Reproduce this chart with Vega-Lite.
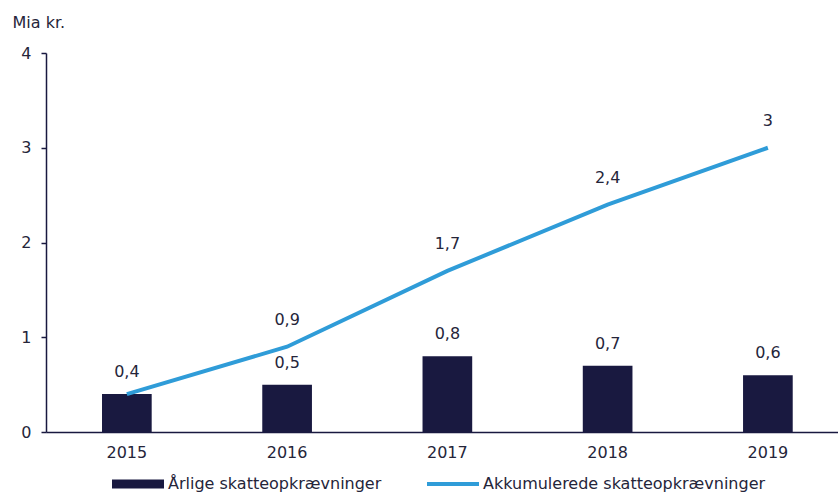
{
  "$schema": "https://vega.github.io/schema/vega-lite/v6.json",
  "autosize": {"type": "none"},
  "padding": {"left": 46, "top": 53, "right": 0, "bottom": 62},
  "width": 792,
  "height": 379,
  "background": "white",
  "config": {
    "locale": {"number": {"decimal": ",", "thousands": ".", "grouping": [3], "currency": ["", " kr."]}},
    "font": "DejaVu Sans",
    "view": {"stroke": null},
    "text": {"font": "DejaVu Sans", "fontSize": 16, "color": "#25253a"}
  },
  "data": {
    "values": [
      {"year": "2015", "annual": 0.4, "cumulative": 0.4},
      {"year": "2016", "annual": 0.5, "cumulative": 0.9},
      {"year": "2017", "annual": 0.8, "cumulative": 1.7},
      {"year": "2018", "annual": 0.7, "cumulative": 2.4},
      {"year": "2019", "annual": 0.6, "cumulative": 3.0}
    ]
  },
  "encoding": {
    "x": {
      "field": "year", "type": "nominal", "title": null,
      "scale": {"paddingInner": 0.69, "paddingOuter": 0.316, "align": 0.553},
      "axis": {
        "labelAngle": 0, "ticks": false, "domainColor": "#191940", "domainWidth": 1.5,
        "labelFontSize": 16, "labelColor": "#25253a", "labelPadding": 12, "grid": false
      }
    }
  },
  "layer": [
    {
      "mark": {"type": "bar", "color": "#191940"},
      "encoding": {
        "y": {
          "field": "annual", "type": "quantitative",
          "scale": {"domain": [0, 4], "nice": false},
          "axis": {
            "values": [0, 1, 2, 3, 4], "format": "d", "grid": false, "domainColor": "#191940", "domainWidth": 1.5,
            "tickColor": "#191940", "tickSize": 5, "tickWidth": 1.5, "labelPadding": 10,
            "labelFontSize": 16, "labelColor": "#25253a",
            "title": "Mia kr.", "titleAngle": 0, "titleAlign": "left", "titleBaseline": "alphabetic",
            "titleX": -34, "titleY": -26, "titleFontSize": 16, "titleFontWeight": "normal", "titleColor": "#25253a"
          }
        },
        "color": {
          "datum": "Årlige skatteopkrævninger",
          "scale": {"domain": ["Årlige skatteopkrævninger", "Akkumulerede skatteopkrævninger"], "range": ["#191940", "#2f9cd8"]},
          "legend": {
            "orient": "none", "legendX": 66, "legendY": 405, "direction": "horizontal", "title": null,
            "symbolSize": 2704, "symbolType": "M-1,-0.17H1V0.17H-1Z", "symbolStrokeWidth": 0,
            "labelFontSize": 16, "labelColor": "#25253a", "labelOffset": 4, "columnPadding": 45, "labelLimit": 400,
            "encode": {
              "symbols": {
                "update": {
                  "shape": {"signal": "datum.value === 'Årlige skatteopkrævninger' ? 'M-1,-0.17H1V0.17H-1Z' : 'M-1,-0.075H1V0.075H-1Z'"},
                  "fill": {"signal": "datum.value === 'Årlige skatteopkrævninger' ? '#191940' : '#2f9cd8'"},
                  "strokeWidth": {"value": 0}
                }
              }
            }
          }
        }
      }
    },
    {
      "mark": {"type": "text", "dy": -22, "baseline": "middle"},
      "encoding": {
        "y": {"field": "annual", "type": "quantitative"},
        "text": {"field": "annual", "type": "quantitative", "format": "~g"}
      }
    },
    {
      "mark": {"type": "line", "strokeWidth": 4, "color": "#2f9cd8"},
      "encoding": {
        "y": {"field": "cumulative", "type": "quantitative"},
        "color": {"datum": "Akkumulerede skatteopkrævninger"}
      }
    },
    {
      "transform": [{"filter": "datum.year != '2015'"}],
      "mark": {"type": "text", "dy": -27, "baseline": "middle"},
      "encoding": {
        "y": {"field": "cumulative", "type": "quantitative"},
        "text": {"field": "cumulative", "type": "quantitative", "format": "~g"}
      }
    }
  ]
}
